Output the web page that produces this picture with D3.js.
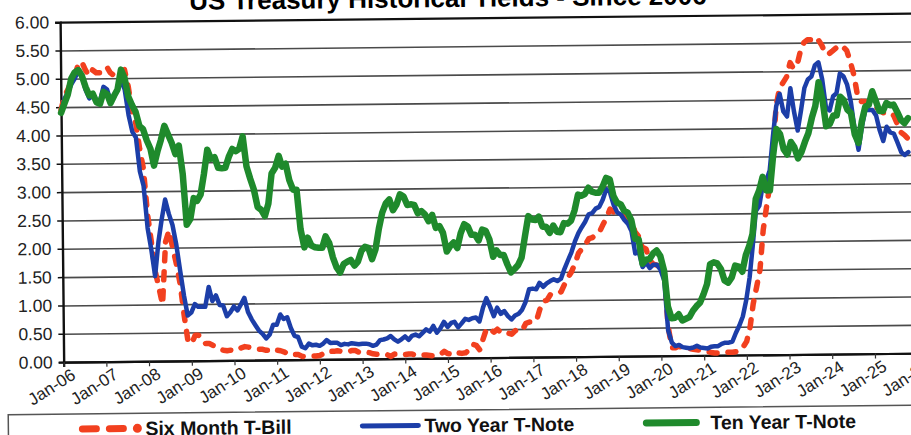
<!DOCTYPE html>
<html>
<head>
<meta charset="utf-8">
<script src="https://cdn.jsdelivr.net/npm/d3@7"></script>
<style>
  body { margin: 0; background: #fff; }
  svg { display: block; }
</style>
</head>
<body>
<div id="canvas"></div>
<script>
// monthly yields, Jan-2006 .. Nov-2025 (one row per year)
var sixMonth = [
  4.45, 4.70, 4.80, 4.95, 5.05, 5.25, 5.30, 5.15, 5.05, 5.15, 5.10, 5.10,
  5.15, 5.20, 5.10, 5.05, 5.05, 5.10, 5.15, 4.85, 4.40, 4.20, 3.75, 3.40,
  2.60, 2.10, 1.60, 1.30, 1.00, 2.10, 2.30, 2.00, 1.70, 1.35, 0.80, 0.35,
  0.30, 0.45, 0.45, 0.40, 0.30, 0.30, 0.27, 0.25, 0.20, 0.18, 0.17, 0.18,
  0.17, 0.18, 0.22, 0.24, 0.23, 0.22, 0.20, 0.19, 0.19, 0.17, 0.17, 0.20,
  0.17, 0.16, 0.14, 0.11, 0.08, 0.09, 0.09, 0.06, 0.05, 0.05, 0.06, 0.06,
  0.07, 0.10, 0.14, 0.14, 0.14, 0.15, 0.14, 0.13, 0.13, 0.15, 0.15, 0.12,
  0.11, 0.12, 0.11, 0.09, 0.08, 0.09, 0.08, 0.07, 0.04, 0.08, 0.08, 0.09,
  0.07, 0.08, 0.08, 0.05, 0.05, 0.06, 0.06, 0.05, 0.04, 0.05, 0.07, 0.12,
  0.08, 0.07, 0.11, 0.09, 0.08, 0.09, 0.14, 0.24, 0.22, 0.14, 0.34, 0.52,
  0.50, 0.45, 0.50, 0.44, 0.45, 0.43, 0.41, 0.47, 0.50, 0.48, 0.60, 0.62,
  0.62, 0.65, 0.84, 0.99, 1.00, 1.10, 1.12, 1.12, 1.15, 1.28, 1.40, 1.50,
  1.65, 1.83, 1.90, 1.98, 2.08, 2.10, 2.15, 2.20, 2.33, 2.45, 2.60, 2.55,
  2.48, 2.48, 2.47, 2.43, 2.39, 2.19, 2.11, 1.92, 1.89, 1.69, 1.62, 1.60,
  1.57, 1.53, 0.52, 0.14, 0.14, 0.17, 0.13, 0.12, 0.12, 0.11, 0.10, 0.09,
  0.09, 0.07, 0.05, 0.04, 0.04, 0.05, 0.06, 0.05, 0.05, 0.06, 0.07, 0.14,
  0.24, 0.50, 0.90, 1.20, 1.50, 2.20, 2.60, 3.00, 3.60, 4.40, 4.70, 4.80,
  4.90, 5.15, 5.05, 5.10, 5.35, 5.50, 5.55, 5.55, 5.60, 5.55, 5.45, 5.30,
  5.30, 5.35, 5.40, 5.45, 5.42, 5.35, 5.15, 4.90, 4.50, 4.45, 4.45, 4.35,
  4.35, 4.35, 4.30, 4.25, 4.25, 4.25, 4.20, 4.05, 3.90, 3.85, 3.78
];
var twoYear = [
  4.40, 4.65, 4.75, 4.90, 5.00, 5.15, 5.05, 4.80, 4.65, 4.70, 4.60, 4.60,
  4.85, 4.80, 4.60, 4.70, 4.80, 4.95, 4.80, 4.35, 4.05, 3.95, 3.35, 3.10,
  2.35, 1.95, 1.50, 2.10, 2.50, 2.85, 2.60, 2.40, 2.05, 1.60, 1.15, 0.80,
  0.85, 1.00, 0.95, 0.95, 0.95, 1.30, 1.05, 1.15, 0.98, 0.97, 0.78, 0.85,
  0.95, 0.88, 0.98, 1.10, 0.85, 0.72, 0.62, 0.52, 0.46, 0.38, 0.45, 0.62,
  0.62, 0.80, 0.72, 0.75, 0.56, 0.42, 0.40, 0.23, 0.20, 0.28, 0.25, 0.26,
  0.24, 0.28, 0.34, 0.29, 0.29, 0.29, 0.25, 0.27, 0.26, 0.28, 0.27, 0.26,
  0.27, 0.27, 0.26, 0.23, 0.25, 0.33, 0.34, 0.36, 0.40, 0.34, 0.30, 0.34,
  0.39, 0.33, 0.40, 0.42, 0.39, 0.45, 0.51, 0.47, 0.57, 0.45, 0.53, 0.64,
  0.55, 0.62, 0.64, 0.54, 0.61, 0.69, 0.67, 0.70, 0.71, 0.64, 0.88, 1.05,
  0.90, 0.73, 0.88, 0.77, 0.82, 0.73, 0.67, 0.74, 0.77, 0.84, 0.98, 1.20,
  1.21, 1.20, 1.31, 1.24, 1.30, 1.34, 1.37, 1.34, 1.38, 1.55, 1.70, 1.84,
  2.03, 2.18, 2.28, 2.38, 2.51, 2.53, 2.61, 2.64, 2.77, 2.95, 2.90, 2.68,
  2.54, 2.50, 2.41, 2.34, 2.21, 1.81, 1.84, 1.57, 1.65, 1.55, 1.61, 1.61,
  1.52, 1.33, 0.45, 0.23, 0.17, 0.19, 0.15, 0.14, 0.13, 0.14, 0.17, 0.14,
  0.13, 0.12, 0.15, 0.16, 0.16, 0.20, 0.22, 0.22, 0.24, 0.39, 0.52, 0.68,
  0.97, 1.37, 1.90, 2.54, 2.63, 2.99, 3.07, 3.25, 3.86, 4.38, 4.60, 4.29,
  4.20, 4.70, 4.30, 3.95, 4.30, 4.70, 4.85, 4.90, 5.10, 5.15, 4.85, 4.35,
  4.30, 4.55, 4.60, 4.95, 4.90, 4.75, 4.45, 3.95, 3.60, 4.00, 4.30, 4.30,
  4.30, 4.20, 3.95, 3.75, 4.00, 3.90, 3.88, 3.72, 3.55, 3.50, 3.55
];
var tenYear = [
  4.40, 4.57, 4.72, 5.00, 5.11, 5.15, 5.05, 4.85, 4.70, 4.73, 4.58, 4.55,
  4.76, 4.72, 4.56, 4.69, 4.80, 5.15, 5.00, 4.67, 4.52, 4.40, 4.15, 4.10,
  3.90, 3.75, 3.45, 3.70, 3.90, 4.15, 4.00, 3.85, 3.65, 3.80, 3.30, 2.40,
  2.50, 2.87, 2.82, 2.93, 3.29, 3.72, 3.56, 3.59, 3.40, 3.39, 3.40, 3.59,
  3.73, 3.69, 3.73, 3.95, 3.42, 3.20, 3.01, 2.70, 2.65, 2.54, 2.76, 3.29,
  3.39, 3.60, 3.41, 3.46, 3.17, 3.00, 3.00, 2.30, 1.98, 2.15, 2.01, 1.98,
  1.97, 1.97, 2.17, 2.05, 1.80, 1.62, 1.53, 1.68, 1.72, 1.75, 1.65, 1.72,
  1.91, 1.98, 1.96, 1.76, 1.93, 2.30, 2.58, 2.74, 2.81, 2.62, 2.72, 2.90,
  2.86, 2.71, 2.72, 2.71, 2.56, 2.60, 2.54, 2.42, 2.53, 2.30, 2.33, 2.21,
  1.88, 1.98, 2.04, 1.94, 2.20, 2.36, 2.32, 2.17, 2.17, 2.07, 2.26, 2.24,
  2.09, 1.78, 1.89, 1.81, 1.81, 1.64, 1.50, 1.56, 1.63, 1.76, 2.14, 2.49,
  2.43, 2.42, 2.48, 2.30, 2.30, 2.19, 2.32, 2.21, 2.20, 2.36, 2.35, 2.40,
  2.58, 2.86, 2.84, 2.87, 2.98, 2.91, 2.89, 2.89, 3.00, 3.15, 3.12, 2.83,
  2.71, 2.68, 2.57, 2.53, 2.40, 2.07, 2.06, 1.63, 1.70, 1.71, 1.81, 1.86,
  1.76, 1.50, 0.87, 0.66, 0.67, 0.73, 0.62, 0.65, 0.68, 0.79, 0.87, 0.93,
  1.08, 1.26, 1.61, 1.64, 1.62, 1.52, 1.32, 1.28, 1.37, 1.58, 1.56, 1.47,
  1.76, 1.93, 2.13, 2.75, 2.90, 3.14, 2.90, 2.90, 3.52, 3.98, 3.89, 3.62,
  3.53, 3.75, 3.66, 3.46, 3.57, 3.75, 3.90, 4.17, 4.38, 4.80, 4.50, 4.02,
  4.06, 4.21, 4.21, 4.54, 4.48, 4.31, 4.25, 3.87, 3.72, 4.10, 4.36, 4.39,
  4.63, 4.45, 4.28, 4.28, 4.42, 4.38, 4.39, 4.26, 4.12, 4.06, 4.15
];
var yTicks = [0, 0.5, 1, 1.5, 2, 2.5, 3, 3.5, 4, 4.5, 5, 5.5, 6];
var xTickLabels = ['Jan-06','Jan-07','Jan-08','Jan-09','Jan-10','Jan-11','Jan-12',
  'Jan-13','Jan-14','Jan-15','Jan-16','Jan-17','Jan-18','Jan-19','Jan-20',
  'Jan-21','Jan-22','Jan-23','Jan-24','Jan-25','Jan-26'];
var seriesNames = ['Six Month T-Bill', 'Two Year T-Note', 'Ten Year T-Note'];

var outerWidth = 911, outerHeight = 435;
var m = {t: 18, l: 62};
var w = 854, h = 340;

var parseTick = d3.timeParse('%b-%y');
var months = d3.timeMonth.range(new Date(2006, 0, 1), new Date(2025, 11, 1));

var svg = d3.select('#canvas').append('svg')
  .attr('width', outerWidth)
  .attr('height', outerHeight);

// the scanned original is tilted a little
var page = svg.append('g').attr('transform', 'rotate(-0.6,455,200)');

page.append('text')
  .attr('x', 450).attr('y', 7)
  .attr('text-anchor', 'middle')
  .style('font', 'bold 26px "Liberation Sans", Arial, sans-serif')
  .text('US Treasury Historical Yields - Since 2006');

var plot = page.append('g')
  .attr('transform', 'translate(' + m.l + ',' + m.t + ')');

var x = d3.scaleTime()
  .domain([parseTick('Jan-06'), parseTick('Jan-26')])
  .range([0, w]);
var y = d3.scaleLinear().domain([0, 6]).range([h, 0]);

// grid lines
var grid = plot.append('g').call(d3.axisRight(y).tickValues(yTicks).tickSize(w + 10).tickFormat(''));
grid.select('.domain').remove();
grid.selectAll('line').attr('stroke', '#4a4a4a').attr('stroke-width', 1.6);
grid.selectAll('.tick').filter(function(d){ return d === 6 || d === 0; })
  .select('line').attr('stroke', '#111').attr('stroke-width', 2.2);

// y axis
var axisY = plot.append('g').call(d3.axisLeft(y).tickValues(yTicks).tickSize(5).tickPadding(6).tickFormat(d3.format('.2f')));
axisY.select('.domain').attr('stroke', '#111').attr('stroke-width', 2.4);
axisY.selectAll('line').attr('stroke', '#111').attr('stroke-width', 1.5);
axisY.selectAll('text')
  .attr('fill', '#222')
  .style('font', '17.5px "Liberation Sans", Arial, sans-serif');

// x axis
var axisX = plot.append('g')
  .attr('transform', 'translate(0,' + h + ')')
  .call(d3.axisBottom(x).tickValues(xTickLabels.map(parseTick)).tickSize(5).tickFormat(d3.timeFormat('%b-%y')));
axisX.select('.domain').attr('stroke', '#111').attr('stroke-width', 2.2);
axisX.selectAll('line').attr('stroke', '#333').attr('stroke-width', 1.2);
axisX.selectAll('text')
  .attr('fill', '#222')
  .attr('text-anchor', 'end')
  .attr('x', 2)
  .attr('y', 20)
  .attr('dy', 0)
  .attr('transform', 'rotate(-32)')
  .style('font', '17px "Liberation Sans", Arial, sans-serif');

var line = d3.line()
  .x(function(d){ return x(d.date); })
  .y(function(d){ return y(d.v); });

function rows(values) {
  return values.map(function(v, i){ return {date: months[i], v: v}; });
}

var styles = [
  {color: '#f2401f', width: 5.5, dash: '8,11'},
  {color: '#1c3ea8', width: 4.5, dash: null},
  {color: '#1f8a2c', width: 6.5, dash: null}
];
[sixMonth, twoYear, tenYear].forEach(function(vals, i){
  plot.append('path')
    .datum(rows(vals))
    .attr('d', line)
    .attr('fill', 'none')
    .attr('stroke', styles[i].color)
    .attr('stroke-width', styles[i].width)
    .attr('stroke-linecap', 'round')
    .attr('stroke-linejoin', 'round')
    .attr('stroke-dasharray', styles[i].dash);
});

// legend
var legend = page.append('g');
legend.append('rect')
  .attr('x', 6).attr('y', 410).attr('width', 920).attr('height', 40)
  .attr('fill', '#fff').attr('stroke', '#555').attr('stroke-width', 1.5);
var legendX = [80, 360, 644];
var legendTextX = [63, 62, 64];
seriesNames.forEach(function(name, i){
  var g = legend.append('g').attr('transform', 'translate(' + legendX[i] + ',425)');
  if (i === 0) {
    g.append('line').attr('x1', 0).attr('x2', 44).attr('y1', 0).attr('y2', 0)
      .attr('stroke', styles[0].color).attr('stroke-width', 7)
      .attr('stroke-linecap', 'round').attr('stroke-dasharray', '14,13');
    g.append('circle').attr('cx', 55).attr('cy', 0).attr('r', 4.5).attr('fill', styles[0].color);
  } else {
    g.append('line').attr('x1', 0).attr('x2', i === 1 ? 56 : 50).attr('y1', 0).attr('y2', 0)
      .attr('stroke', styles[i].color).attr('stroke-width', i === 1 ? 5 : 7)
      .attr('stroke-linecap', 'round');
  }
  g.append('text')
    .attr('x', legendTextX[i]).attr('y', 7)
    .style('font', 'bold 19.5px "Liberation Sans", Arial, sans-serif')
    .attr('fill', '#111')
    .text(name);
});
</script>
</body>
</html>
